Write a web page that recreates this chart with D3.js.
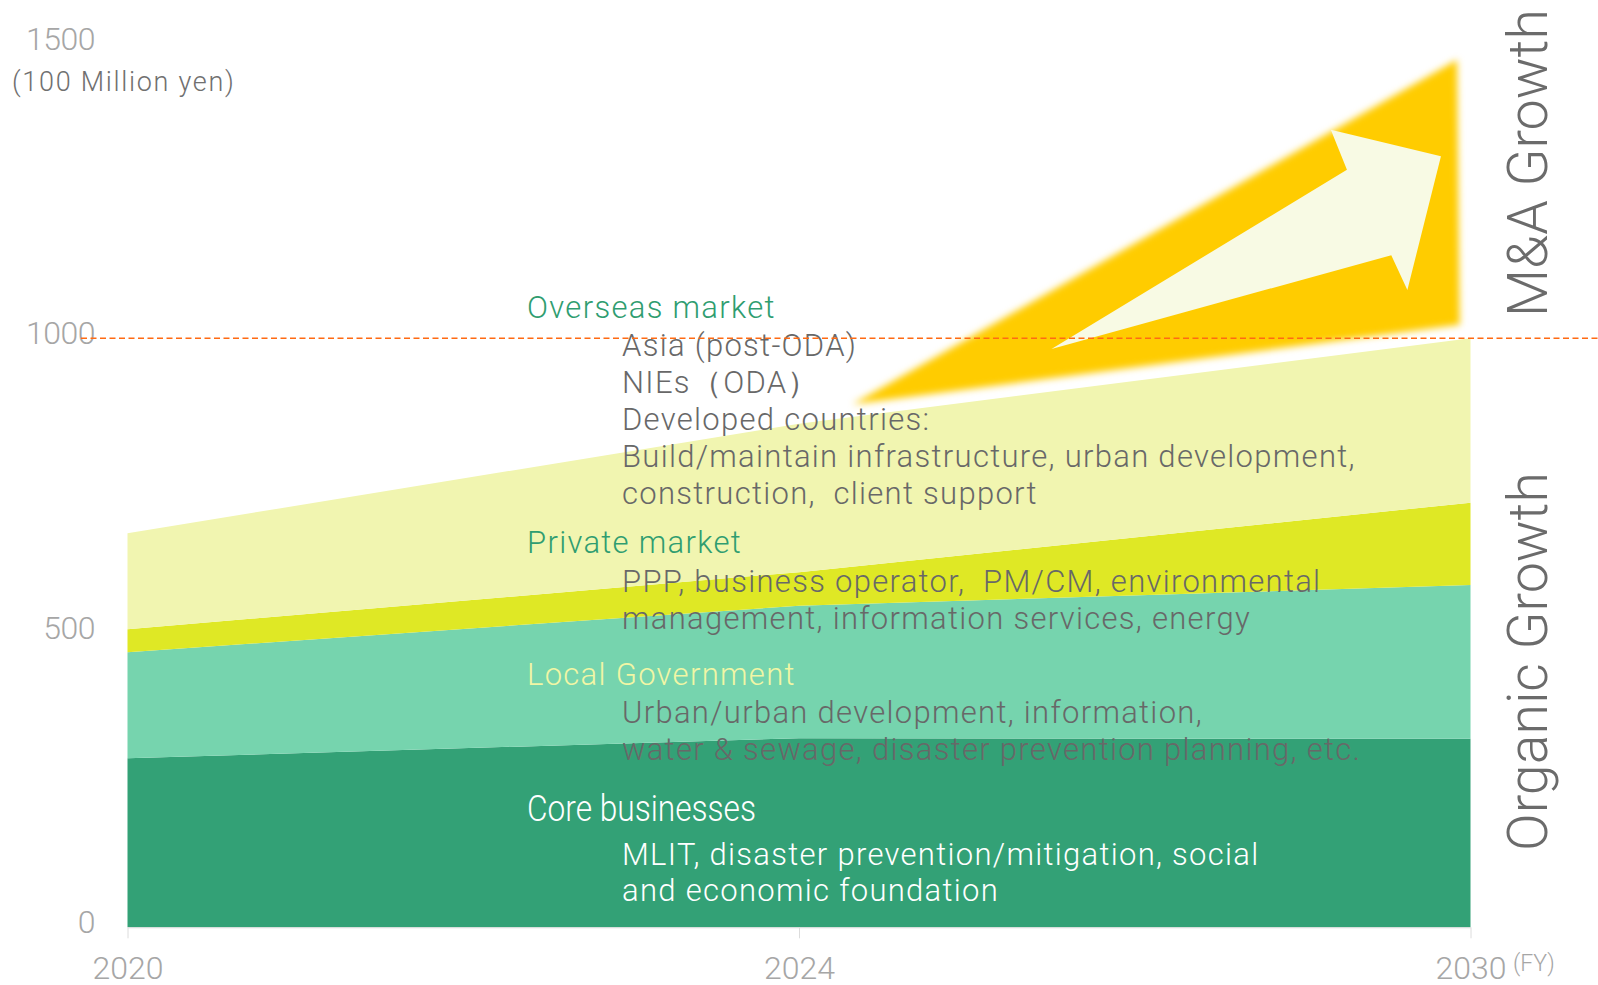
<!DOCTYPE html>
<html>
<head>
<meta charset="utf-8">
<script src="https://cdn.jsdelivr.net/npm/d3@7"></script>
<style>
  body { margin: 0; background: #fff; }
  svg { display: block; font-family: Roboto, "Noto Sans", sans-serif; font-weight: 300; }
  svg text { white-space: pre; }
</style>
</head>
<body>
<svg id="chart" width="1598" height="985"></svg>
<script>
// fiscal years on the x axis
var years = ["2020", "2024", "2030"];

// stacked segments (100 million yen), bottom to top
var coreBusinesses = [287, 321, 320];
var localGovernment = [180, 225, 261];
var privateMarket = [39, 57, 140];
var overseasMarket = [163, 252, 279];

var yTicks = [0, 500, 1000, 1500];
var targetLine = 1000;

// M&A growth arrow: x as share of the time axis, y in 100 million yen
var mnaTriangle = [[0.540, 888], [0.990, 1473], [0.992, 1023]];
var mnaArrow = [[0.688, 982], [0.908, 1286], [0.896, 1354], [0.978, 1309], [0.953, 1082], [0.941, 1141]];

// label blocks
var overseasTitle = "Overseas market";
var overseasLines = ["Asia (post-ODA)", "NIEs（ODA）", "Developed countries:",
  "Build/maintain infrastructure, urban development,", "construction,  client support"];
var privateTitle = "Private market";
var privateLines = ["PPP, business operator,  PM/CM, environmental",
  "management, information services, energy"];
var localTitle = "Local Government";
var localLines = ["Urban/urban development, information,",
  "water & sewage, disaster prevention planning, etc."];
var coreTitle = "Core businesses";
var coreLines = ["MLIT, disaster prevention/mitigation, social", "and economic foundation"];

var svg = d3.select("#chart");
var plotLeft = 127.5, plotRight = 1470.5, plotTop = 43.8, plotBottom = 927.3;

var x = d3.scalePoint().domain(years).range([plotLeft, plotRight]);
var xShare = d3.scaleLinear().domain([0, 1]).range([plotLeft, plotRight]);
var y = d3.scaleLinear().domain([0, 1500]).range([plotBottom, plotTop]);

var rows = years.map(function(yr, i) {
  return {year: yr, core: coreBusinesses[i], local: localGovernment[i],
          priv: privateMarket[i], overseas: overseasMarket[i]};
});
var keys = ["core", "local", "priv", "overseas"];
var colors = {core: "#33a176", local: "#76d4ae", priv: "#dfe825", overseas: "#f1f5b0"};

var series = d3.stack().keys(keys)(rows);

var area = d3.area()
    .x(function(d) { return x(d.data.year); })
    .y0(function(d) { return y(d[0]); })
    .y1(function(d) { return y(d[1]); });

svg.append("g").attr("class", "areas").selectAll("path")
    .data(series)
  .enter().append("path")
    .attr("fill", function(d) { return colors[d.key]; })
    .attr("d", area);

// x axis
var xAxis = svg.append("g")
    .attr("transform", "translate(0," + plotBottom + ")")
    .call(d3.axisBottom(x).tickSizeInner(11).tickSizeOuter(0));
xAxis.select(".domain").attr("stroke", "#dcdcdc");
xAxis.selectAll(".tick line").attr("stroke", "#dcdcdc");
xAxis.selectAll(".tick text")
    .attr("y", 51.5).attr("dy", 0)
    .attr("fill", "#a6a6a6")
    .style("font-size", "32px")
    .style("font-family", "Roboto, sans-serif")
    .style("font-weight", 300);

svg.append("text")
    .attr("x", 1513).attr("y", 971)
    .attr("fill", "#a6a6a6")
    .style("font-size", "23px")
    .text("(FY)");

// y axis labels only
var yAxis = svg.append("g")
    .attr("transform", "translate(95,0)")
    .call(d3.axisLeft(y).tickValues(yTicks).tickFormat(d3.format("d")).tickSize(0).tickPadding(0));
yAxis.select(".domain").remove();
yAxis.selectAll(".tick text")
    .attr("dy", "0.17em")
    .attr("fill", "#a6a6a6")
    .style("font-size", "32px")
    .style("font-family", "Roboto, sans-serif")
    .style("font-weight", 300)
    .style("letter-spacing", "-0.5px");

svg.append("text")
    .attr("x", 12).attr("y", 90.5)
    .attr("fill", "#707070")
    .style("font-size", "27px")
    .style("letter-spacing", "1.7px")
    .text("(100 Million yen)");

// M&A arrow
var defs = svg.append("defs");
defs.append("filter").attr("id", "soft")
    .attr("x", "-10%").attr("y", "-10%").attr("width", "120%").attr("height", "120%")
  .append("feGaussianBlur").attr("stdDeviation", 3.5);

var poly = d3.line()
    .x(function(d) { return xShare(d[0]); })
    .y(function(d) { return y(d[1]); });

svg.append("path")
    .attr("d", poly(mnaTriangle) + "Z")
    .attr("fill", "#ffcc00")
    .attr("filter", "url(#soft)");

svg.append("path")
    .attr("d", poly(mnaArrow) + "Z")
    .attr("fill", "#f8fae4");

// text blocks
var blocks = [
  {title: overseasTitle, lines: overseasLines, y: 317.5, gap: 38.5, step: 37, titleColor: "#2f9d70", color: "#686868"},
  {title: privateTitle, lines: privateLines, y: 553, gap: 38.5, step: 37, titleColor: "#2f9d70", color: "#686868"},
  {title: localTitle, lines: localLines, y: 684.5, gap: 38, step: 37.5, titleColor: "#f1f6a5", color: "#686868"},
  {title: coreTitle, lines: coreLines, y: 821, gap: 44, step: 36, titleColor: "#ffffff", color: "#ffffff"}
];

var text = svg.append("g").attr("class", "labels")
    .style("font-size", "31px")
    .style("letter-spacing", "1.3px");

blocks.forEach(function(b, bi) {
  var t = text.append("text")
      .attr("x", 527).attr("y", b.y)
      .attr("fill", b.titleColor)
      .text(b.title);
  if (bi === 3) {
    t.style("font-size", "37px").style("letter-spacing", "0px")
     .attr("textLength", 229).attr("lengthAdjust", "spacingAndGlyphs");
  }
  b.lines.forEach(function(line, i) {
    text.append("text")
        .attr("x", 622).attr("y", b.y + b.gap + i * b.step)
        .attr("fill", b.color)
        .text(line);
  });
});

// 1000 line
svg.append("line")
    .attr("x1", 81).attr("x2", 1598)
    .attr("y1", y(targetLine)).attr("y2", y(targetLine))
    .attr("stroke", "#ff6a13")
    .attr("stroke-width", 1.5)
    .attr("stroke-dasharray", "6,3.5");

// side labels
function sideLabel(label, cy) {
  svg.append("text")
      .attr("transform", "translate(1547," + cy + ") rotate(-90)")
      .attr("text-anchor", "middle")
      .attr("fill", "#6b6b6b")
      .style("font-size", "55.5px")
      .text(label);
}
sideLabel("M&A Growth", 163);
sideLabel("Organic Growth", 661.5);
</script>
</body>
</html>
